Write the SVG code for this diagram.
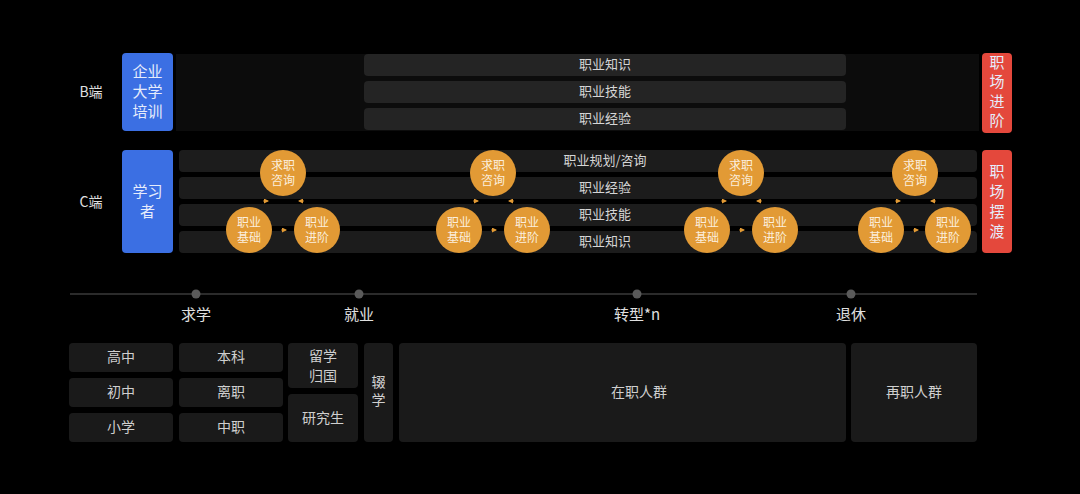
<svg xmlns="http://www.w3.org/2000/svg" width="1080" height="494" viewBox="0 0 1080 494">
<style>
text{font-family:"Noto Sans CJK SC","Noto Sans",sans-serif;fill:#d6d6d6;text-anchor:middle;dominant-baseline:central;transform:translateY(-1.5px)}
.panel{fill:#0c0c0c}
.bar{fill:#242424}
.row{fill:#1c1c1c}
.box{fill:#1a1a1a}
.blue{fill:#3b6fe3}
.red{fill:#e4483c}
.circ{fill:#e29a35}
.ct{font-size:12px;fill:#fbeedd}
.bt{font-size:13px}
.side{font-size:15px;fill:#e6ecfb}
.lab{font-size:15px;fill:#e0e0e0}
.bx{font-size:14px;fill:#cfcfcf}
.conn{stroke:#e29a35;stroke-width:0.8;fill:none}
</style>
<defs>
<marker id="ah" markerWidth="5" markerHeight="5" refX="4" refY="2.5" orient="auto" markerUnits="userSpaceOnUse">
<path d="M0,0 L5,2.5 L0,5 Z" fill="#e29a35"/>
</marker>
</defs>
<rect width="1080" height="494" fill="#000"/>

<g id="b-side">
<text x="91" y="92" class="lab" style="font-size:14px">B端</text>
<rect class="panel" x="176" y="54" width="803" height="77"/>
<g id="b-blue"><rect class="blue" x="122" y="53" width="51" height="78" rx="4"/>
<text class="side" x="147.5" y="72">企业</text><text class="side" x="147.5" y="92">大学</text><text class="side" x="147.5" y="112">培训</text></g>
<g id="b-bar1"><rect class="bar" x="364" y="54" width="482" height="22" rx="4"/><text class="bt" x="605" y="65">职业知识</text></g>
<g id="b-bar2"><rect class="bar" x="364" y="81" width="482" height="22" rx="4"/><text class="bt" x="605" y="92">职业技能</text></g>
<g id="b-bar3"><rect class="bar" x="364" y="108" width="482" height="22" rx="4"/><text class="bt" x="605" y="119">职业经验</text></g>
<g id="b-red"><rect class="red" x="982" y="53" width="30" height="80" rx="4"/>
<text class="side" x="997" y="63">职</text><text class="side" x="997" y="82">场</text><text class="side" x="997" y="102">进</text><text class="side" x="997" y="121">阶</text></g>
</g>

<g id="c-side">
<text x="91" y="202" class="lab" style="font-size:14px">C端</text>
<g id="c-blue"><rect class="blue" x="122" y="150" width="51" height="103" rx="4"/>
<text class="side" x="147.5" y="192">学习</text><text class="side" x="147.5" y="212">者</text></g>
<g id="c-row1"><rect class="row" x="179" y="150" width="798" height="22" rx="4"/><text class="bt" x="605" y="161">职业规划/咨询</text></g>
<g id="c-row2"><rect class="row" x="179" y="177" width="798" height="22" rx="4"/><text class="bt" x="605" y="188">职业经验</text></g>
<g id="c-row3"><rect class="row" x="179" y="204" width="798" height="22" rx="4"/><text class="bt" x="605" y="215">职业技能</text></g>
<g id="c-row4"><rect class="row" x="179" y="231" width="798" height="22" rx="4"/><text class="bt" x="605" y="242">职业知识</text></g>
<g id="c-red"><rect class="red" x="982" y="150" width="30" height="103" rx="4"/>
<text class="side" x="997" y="172">职</text><text class="side" x="997" y="192">场</text><text class="side" x="997" y="212">摆</text><text class="side" x="997" y="232">渡</text></g>
</g>

<g id="connectors">
<path class="conn" d="M263,201 L268,201" marker-end="url(#ah)"/>
<path class="conn" d="M304,201 L299,201" marker-end="url(#ah)"/>
<path class="conn" d="M281,230 L286,230" marker-end="url(#ah)"/>
<path class="conn" d="M473,201 L478,201" marker-end="url(#ah)"/>
<path class="conn" d="M514,201 L509,201" marker-end="url(#ah)"/>
<path class="conn" d="M491,230 L496,230" marker-end="url(#ah)"/>
<path class="conn" d="M721,201 L726,201" marker-end="url(#ah)"/>
<path class="conn" d="M762,201 L757,201" marker-end="url(#ah)"/>
<path class="conn" d="M739,230 L744,230" marker-end="url(#ah)"/>
<path class="conn" d="M895,201 L900,201" marker-end="url(#ah)"/>
<path class="conn" d="M936,201 L931,201" marker-end="url(#ah)"/>
<path class="conn" d="M913,230 L918,230" marker-end="url(#ah)"/>
</g>

<g id="q1"><circle class="circ" cx="283" cy="173" r="23"/><text class="ct" x="283" y="166">求职</text><text class="ct" x="283" y="181">咨询</text></g>
<g id="j1"><circle class="circ" cx="249" cy="230" r="23"/><text class="ct" x="249" y="223">职业</text><text class="ct" x="249" y="238">基础</text></g>
<g id="p1"><circle class="circ" cx="317" cy="230" r="23"/><text class="ct" x="317" y="223">职业</text><text class="ct" x="317" y="238">进阶</text></g>
<g id="q2"><circle class="circ" cx="493" cy="173" r="23"/><text class="ct" x="493" y="166">求职</text><text class="ct" x="493" y="181">咨询</text></g>
<g id="j2"><circle class="circ" cx="459" cy="230" r="23"/><text class="ct" x="459" y="223">职业</text><text class="ct" x="459" y="238">基础</text></g>
<g id="p2"><circle class="circ" cx="527" cy="230" r="23"/><text class="ct" x="527" y="223">职业</text><text class="ct" x="527" y="238">进阶</text></g>
<g id="q3"><circle class="circ" cx="741" cy="173" r="23"/><text class="ct" x="741" y="166">求职</text><text class="ct" x="741" y="181">咨询</text></g>
<g id="j3"><circle class="circ" cx="707" cy="230" r="23"/><text class="ct" x="707" y="223">职业</text><text class="ct" x="707" y="238">基础</text></g>
<g id="p3"><circle class="circ" cx="775" cy="230" r="23"/><text class="ct" x="775" y="223">职业</text><text class="ct" x="775" y="238">进阶</text></g>
<g id="q4"><circle class="circ" cx="915" cy="173" r="23"/><text class="ct" x="915" y="166">求职</text><text class="ct" x="915" y="181">咨询</text></g>
<g id="j4"><circle class="circ" cx="881" cy="230" r="23"/><text class="ct" x="881" y="223">职业</text><text class="ct" x="881" y="238">基础</text></g>
<g id="p4"><circle class="circ" cx="948" cy="230" r="23"/><text class="ct" x="948" y="223">职业</text><text class="ct" x="948" y="238">进阶</text></g>

<g id="timeline">
<line x1="70" y1="294" x2="977" y2="294" stroke="#3a3a3a" stroke-width="1.5"/>
<circle cx="196" cy="294" r="4.5" fill="#5a5a5a"/>
<circle cx="359" cy="294" r="4.5" fill="#5a5a5a"/>
<circle cx="637" cy="294" r="4.5" fill="#5a5a5a"/>
<circle cx="851" cy="294" r="4.5" fill="#5a5a5a"/>
<text class="lab" x="196" y="315">求学</text>
<text class="lab" x="359" y="315">就业</text>
<text class="lab" x="637" y="315">转型*n</text>
<text class="lab" x="851" y="315">退休</text>
</g>

<g id="gz"><rect class="box" x="69" y="343" width="104" height="29" rx="4"/><text class="bx" x="121" y="357.5">高中</text></g>
<g id="cz"><rect class="box" x="69" y="378" width="104" height="29" rx="4"/><text class="bx" x="121" y="392.5">初中</text></g>
<g id="xx"><rect class="box" x="69" y="413" width="104" height="29" rx="4"/><text class="bx" x="121" y="427.5">小学</text></g>
<g id="bk"><rect class="box" x="179" y="343" width="104" height="29" rx="4"/><text class="bx" x="231" y="357.5">本科</text></g>
<g id="lz"><rect class="box" x="179" y="378" width="104" height="29" rx="4"/><text class="bx" x="231" y="392.5">离职</text></g>
<g id="zz"><rect class="box" x="179" y="413" width="104" height="29" rx="4"/><text class="bx" x="231" y="427.5">中职</text></g>
<g id="lxgg"><rect class="box" x="288" y="343" width="70" height="45" rx="4"/><text class="bx" x="323" y="356">留学</text><text class="bx" x="323" y="376">归国</text></g>
<g id="yjs"><rect class="box" x="288" y="394" width="70" height="48" rx="4"/><text class="bx" x="323" y="418">研究生</text></g>
<g id="cx"><rect class="box" x="364" y="343" width="29" height="99" rx="4"/><text class="bx" x="378.5" y="382">辍</text><text class="bx" x="378.5" y="400">学</text></g>
<g id="zzrq"><rect class="box" x="399" y="343" width="447" height="99" rx="4"/><text class="bx" x="639" y="392.5">在职人群</text></g>
<g id="zzrq2"><rect class="box" x="851" y="343" width="126" height="99" rx="4"/><text class="bx" x="914" y="392.5">再职人群</text></g>
</svg>
